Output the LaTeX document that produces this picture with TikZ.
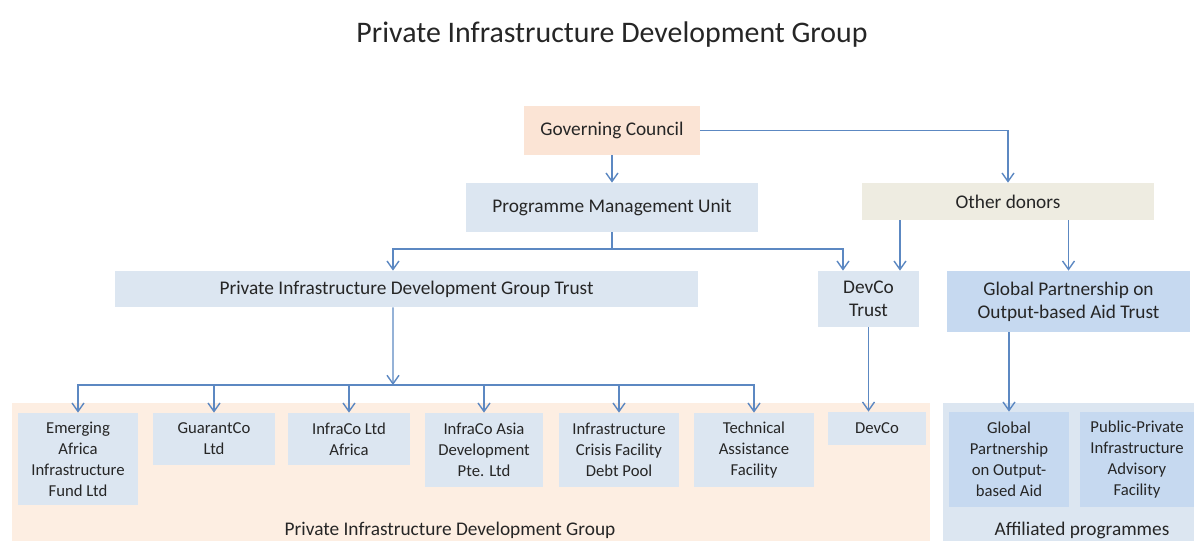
\documentclass[tikz,border=0pt]{standalone}
\usepackage{fontspec}
\setmainfont{Carlito}
\usetikzlibrary{arrows.meta}

\definecolor{linkblue}{RGB}{92,136,194}
\definecolor{councilpeach}{RGB}{251,228,213}
\definecolor{grouppeach}{RGB}{253,238,226}
\definecolor{unitblue}{RGB}{220,230,241}
\definecolor{trustblue}{RGB}{198,217,240}
\definecolor{donorgrey}{RGB}{238,236,225}
\definecolor{inkgrey}{RGB}{38,38,38}

\begin{document}
\begin{tikzpicture}[x=0.02cm,y=-0.02cm]
\tikzset{
  unit/.style={fill=unitblue, inner sep=2pt, align=center, text=inkgrey, font=\fontsize{11}{13}\selectfont},
  member/.style={unit, font=\fontsize{9.5}{12}\selectfont},
  caption/.style={text=inkgrey, font=\fontsize{11}{13}\selectfont},
  link/.style={-, draw=linkblue, line width=0.8pt},
  feed/.style={link, -{Straight Barb[length=1.7mm,width=2.4mm]}},
  elbow/.style={to path={-| (\tikztotarget)}}
}
\path[use as bounding box] (0,0) rectangle (1194,541);

\node (title) at (612,35) [text=inkgrey, font=\fontsize{17}{20}\selectfont] {Private Infrastructure Development Group};

% group backgrounds
\node (pidg) at (471,472) [fill=grouppeach, inner sep=0pt, minimum width=18.36cm, minimum height=2.76cm] {};
\node (affiliated) at (1068.5,472) [fill=unitblue, inner sep=0pt, minimum width=5.02cm, minimum height=2.76cm] {};
\node (pidglabel) at (450,530) [caption] {Private Infrastructure Development Group};
\node (afflabel) at (1082,530) [caption] {Affiliated programmes};

% governance and trusts
\node (gc) at (612,130.5) [unit, fill=councilpeach, minimum width=3.52cm, minimum height=0.98cm] {Governing Council};
\node (pmu) at (612,207.5) [unit, minimum width=5.86cm, minimum height=0.98cm] {Programme Management Unit};
\node (od) at (1008,201.5) [unit, fill=donorgrey, minimum width=5.84cm, minimum height=0.74cm] {Other donors};
\node (pidgt) at (406.5,289) [unit, minimum width=11.66cm, minimum height=0.72cm] {Private Infrastructure Development Group Trust};
\node (devcot) at (868.5,299) [unit, minimum width=2.02cm, minimum height=1.12cm] {DevCo\\Trust};
\node (gpobat) at (1068.5,301.5) [unit, fill=trustblue, minimum width=4.86cm, minimum height=1.22cm] {Global Partnership on\\Output-based Aid Trust};

% facilities
\node (eaif) at (78,459) [member, minimum width=2.4cm, minimum height=1.84cm] {Emerging\\Africa\\Infrastructure\\Fund Ltd};
\node (guarantco) at (214,439) [member, minimum width=2.44cm, minimum height=1.04cm] {GuarantCo\\Ltd};
\node (infracoaf) at (349,439) [member, minimum width=2.44cm, minimum height=1.04cm] {InfraCo Ltd\\Africa};
\node (infracoas) at (484,450) [member, minimum width=2.36cm, minimum height=1.48cm] {InfraCo Asia\\Development\\Pte. Ltd};
\node (icf) at (619,450) [member, minimum width=2.4cm, minimum height=1.48cm] {Infrastructure\\Crisis Facility\\Debt Pool};
\node (taf) at (754,450) [member, minimum width=2.4cm, minimum height=1.48cm] {Technical\\Assistance\\Facility};
\node (devco) at (877,428.5) [member, minimum width=1.96cm, minimum height=0.66cm] {DevCo};
\node (gpoba) at (1009,459.5) [member, fill=trustblue, minimum width=2.4cm, minimum height=1.9cm] {Global\\Partnership\\on Output-\\based Aid};
\node (ppiaf) at (1137,459.5) [member, fill=trustblue, minimum width=2.28cm, minimum height=1.9cm] {Public-Private\\Infrastructure\\Advisory\\Facility};

\coordinate (split) at (612,249);
\coordinate (bus) at (393,385);
\coordinate (pidgtin) at ([xshift=-0.27cm]pidgt.north);
\coordinate (pidgtout) at ([xshift=-0.27cm]pidgt.south);
\coordinate (devcotin) at ([xshift=-0.51cm]devcot.north);
\coordinate (donorin) at ([xshift=0.63cm]devcot.north);

\path
(gc) edge [feed] (pmu)
(gc) edge [feed, elbow] (od)
(pmu) edge [link] (split)
(split) edge [feed, elbow] (pidgtin)
(split) edge [feed, elbow] (devcotin)
(donorin |- od.south) edge [feed] (donorin)
(od.south -| gpobat.north) edge [feed] (gpobat)
(pidgtout) edge [feed] (bus)
(bus) edge [feed, elbow] (eaif)
(bus) edge [feed, elbow] (guarantco)
(bus) edge [feed, elbow] (infracoaf)
(bus) edge [feed, elbow] (infracoas)
(bus) edge [feed, elbow] (icf)
(bus) edge [feed, elbow] (taf)
(devcot) edge [feed] (devcot.south |- devco.north)
(gpoba.north |- gpobat.south) edge [feed] (gpoba);
\end{tikzpicture}
\end{document}
